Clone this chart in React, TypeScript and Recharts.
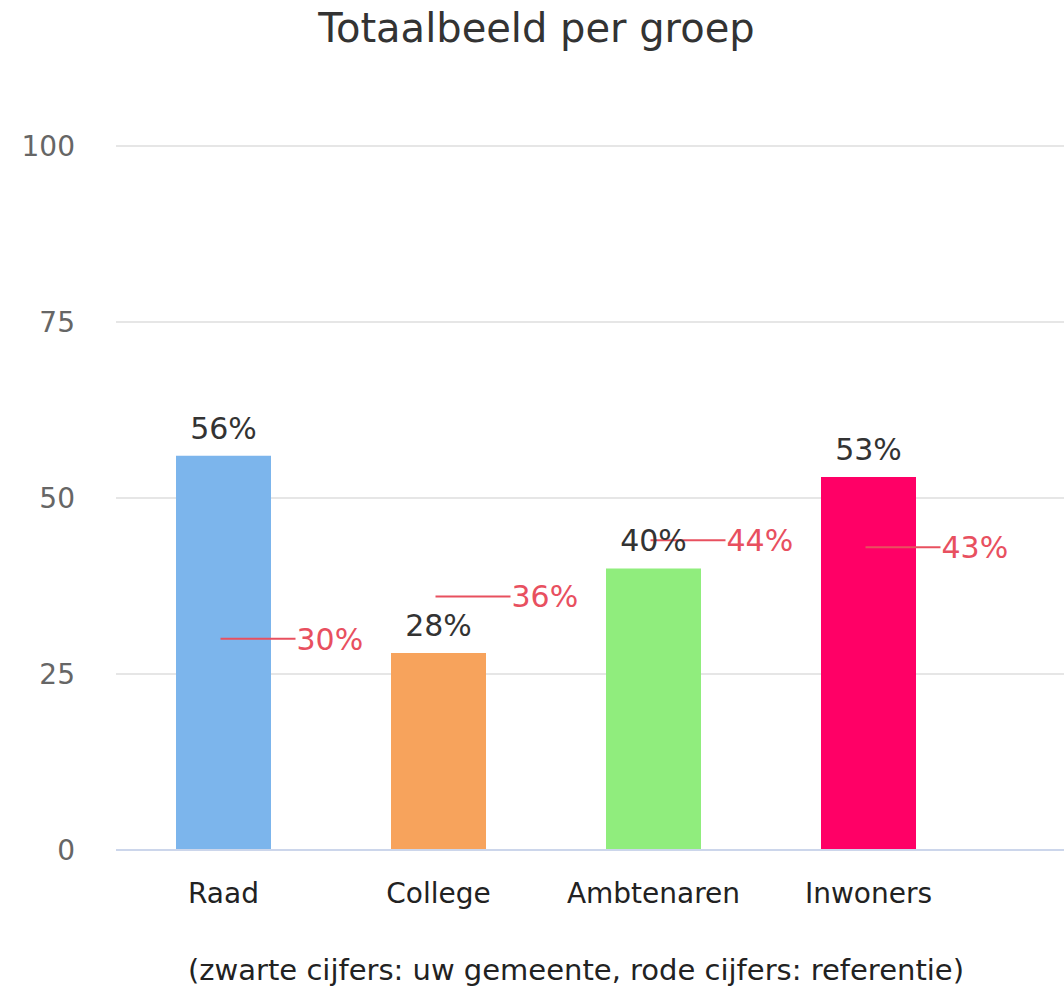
import { ComposedChart, Bar, Scatter, XAxis, YAxis, CartesianGrid, Cell, LabelList } from "recharts";

const categories = ["Raad", "College", "Ambtenaren", "Inwoners"];
const gemeente = [56, 28, 40, 53];
const referentie = [30, 36, 44, 43];
const barColors = ["#7cb5ec", "#f7a35c", "#90ed7d", "#ff0066"];
const yTicks = [0, 25, 50, 75, 100];

const RED = "#e8505f";
const FONT = "'DejaVu Sans', sans-serif";

const data = categories.map((name, i) => ({
  name,
  gemeente: gemeente[i],
  referentie: referentie[i],
}));

// red marker: short horizontal line from the bar centre, with the value to its right
const RefMarker = (props: any) => {
  const { cx, cy, payload } = props;
  if (cx == null || cy == null) return null;
  return (
    <g>
      <line x1={cx - 3} y1={cy} x2={cx + 72} y2={cy} stroke={RED} strokeWidth={2} />
      <text x={cx + 73} y={cy} dy="0.36em" fill={RED} fontSize={30} fontFamily={FONT}>
        {`${payload.referentie}%`}
      </text>
    </g>
  );
};

export default function App() {
  return (
    <div style={{ position: "absolute", left: 0, top: 0, width: 1064, height: 996, background: "#fff", fontFamily: FONT }}>
      <div style={{ position: "absolute", top: 8, left: 0, width: 1073, textAlign: "center", fontSize: 40, lineHeight: "40px", color: "#333" }}>
        Totaalbeeld per groep
      </div>
      <ComposedChart width={1064} height={996} data={data} margin={{ top: 146, right: 0, bottom: 86, left: 0 }}>
        <CartesianGrid vertical={false} stroke="#e6e6e6" strokeWidth={2} />
        <XAxis
          dataKey="name"
          padding={{ left: 0, right: 88 }}
          height={60}
          axisLine={{ stroke: "#ccd6eb", strokeWidth: 2 }}
          tickLine={false}
          tickSize={0}
          tickMargin={33}
          tick={{ fill: "#222", fontSize: 28, fontFamily: FONT }}
        />
        <YAxis
          domain={[0, 100]}
          ticks={yTicks}
          width={116}
          axisLine={false}
          tickLine={false}
          tickSize={0}
          tickMargin={41}
          tick={{ fill: "#666", fontSize: 28, fontFamily: FONT }}
        />
        <Bar dataKey="gemeente" barSize={95} isAnimationActive={false}>
          {data.map((d, i) => (
            <Cell key={d.name} fill={barColors[i]} />
          ))}
          <LabelList
            dataKey="gemeente"
            position="top"
            offset={17}
            formatter={(v: any) => `${v}%`}
            style={{ fill: "#333", fontSize: 30, fontFamily: FONT }}
          />
        </Bar>
        <Scatter dataKey="referentie" shape={<RefMarker />} isAnimationActive={false} />
      </ComposedChart>
      <div style={{ position: "absolute", top: 956, left: 0, width: 1152, textAlign: "center", fontSize: 29, lineHeight: "29px", color: "#222" }}>
        (zwarte cijfers: uw gemeente, rode cijfers: referentie)
      </div>
    </div>
  );
}
